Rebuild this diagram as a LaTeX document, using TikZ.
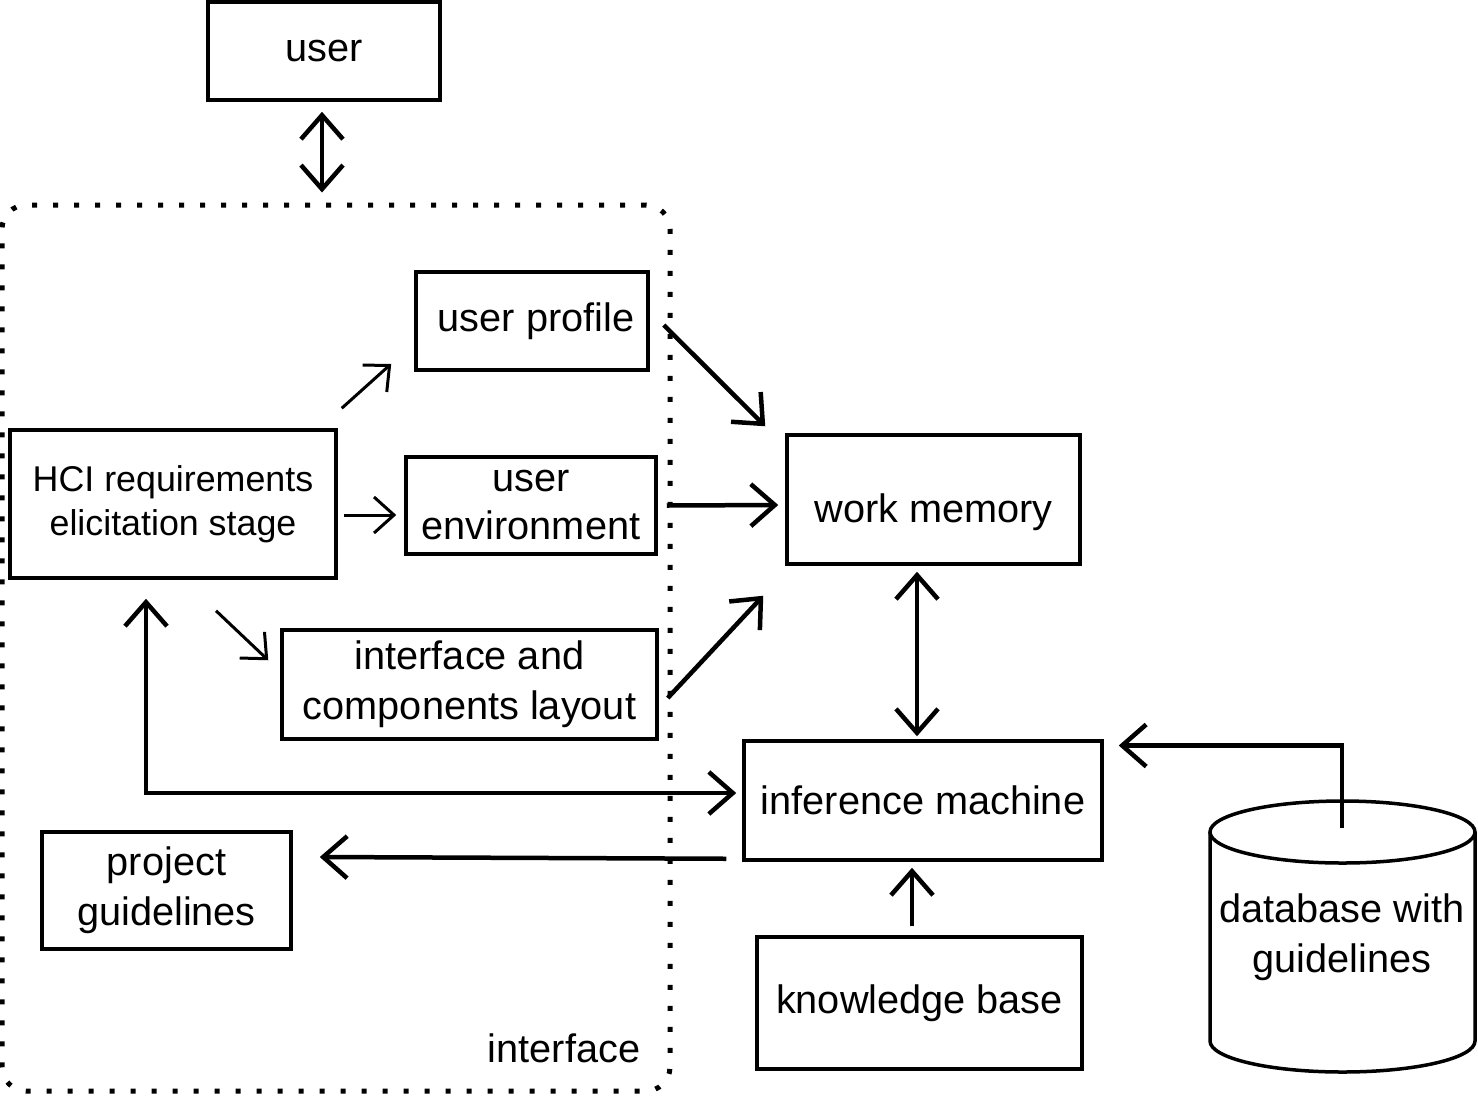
\documentclass[tikz,border=0pt]{standalone}
\usepackage{fontspec}
\setmainfont{Liberation Sans}
\usetikzlibrary{arrows.meta}
\begin{document}
\begin{tikzpicture}[x=1pt,y=-1pt,
  bigtip/.tip={Straight Barb[length=24pt,width=42pt]},
  smalltip/.tip={Straight Barb[length=20pt,width=36pt]},
  box/.style={draw,line width=3.5pt,inner sep=0pt,align=center,font=\fontsize{39.7}{48}\selectfont},
  hcibox/.style={box,font=\fontsize{35.8}{44}\selectfont},
  big/.style={line width=4.5pt},
  small/.style={line width=3pt},
  iframe/.style={draw,line width=5pt,line cap=butt,dash pattern=on 5pt off 16pt,rounded corners=24pt,inner sep=0pt}]
\useasboundingbox (0,0) rectangle (1478,1096);
% interface frame
\node[iframe,minimum width=668pt,minimum height=886pt] (iface) at (336,648) {};
\node[font=\fontsize{39.7}{48}\selectfont,inner sep=0pt] (ilabel) at (564,1048) {interface};
% boxes
\node[box,minimum width=232pt,minimum height=98pt] (user) at (324,51) {user};
\node[box,minimum width=232pt,minimum height=98pt] (prof) at (532,321) {\hspace*{8pt}user profile};
\node[hcibox,minimum width=326pt,minimum height=148pt] (hci) at (173,504) {HCI requirements\\elicitation stage};
\node[box,minimum width=250pt,minimum height=97pt] (env) at (531,505.5) {user\\environment};
\node[box,minimum width=375pt,minimum height=109pt,font=\fontsize{39.7}{50}\selectfont] (lay) at (469.5,684.5) {interface and\\components layout};
\node[box,minimum width=293pt,minimum height=129pt] (wm) at (933.5,499.5) {\raisebox{-9pt}[\height][0pt]{work memory}};
\node[box,minimum width=358pt,minimum height=119pt] (inf) at (923,800.5) {inference machine};
\node[box,minimum width=249pt,minimum height=117pt,font=\fontsize{39.7}{50}\selectfont] (pg) at (166.5,890.5) {project\\guidelines};
\node[box,minimum width=325pt,minimum height=132pt] (kb) at (919.5,1003) {knowledge base};
% database cylinder
\draw[line width=3.5pt] (1210,832) -- (1210,1041) arc[start angle=180,end angle=0,x radius=132.5,y radius=31] -- (1475,832);
\draw[line width=3.5pt] (1342.5,832) ellipse[x radius=132.5,y radius=31];
\node[inner sep=0pt,align=center,font=\fontsize{39.7}{50}\selectfont] (db) at (1342,937) {database with\\guidelines};
\coordinate (dbtop) at (1342,828);
% connectors
\draw[big,bigtip-bigtip] ([shift={(-2,10)}]user.south) -- ([shift={(-14,-10)}]iface.north);
\draw[small,-smalltip] ([shift={(4,-20)}]hci.north east) -- ([shift={(-23,-8)}]prof.south west);
\draw[small,-smalltip] ([shift={(6,11)}]hci.east) -- ([shift={(-8,9.5)}]env.west);
\draw[small,-smalltip] ([shift={(43,31)}]hci.south) -- ([shift={(-12,32)}]lay.north west);
\draw[big,-bigtip] ([shift={(14,4)}]prof.east) -- ([shift={(-20,-7)}]wm.north west);
\draw[big,-bigtip] ([shift={(9,0)}]env.east) -- ([shift={(-7,5.5)}]wm.west);
\draw[big,-bigtip] ([shift={(9,13.5)}]lay.east) -- ([shift={(-22,30)}]wm.south west);
\draw[big,bigtip-bigtip] ([shift={(-16.5,6)}]wm.south) -- ([shift={(-6,-3)}]inf.north);
\draw[big,bigtip-bigtip] ([shift={(-27,19)}]hci.south) |- ([shift={(-6,-7.5)}]inf.west);
\draw[big,-bigtip] ([shift={(-16,-3)}]inf.south west) -- ([shift={(27,-33.5)}]pg.east);
\draw[big,-bigtip] ([shift={(-7.5,-9)}]kb.north) -- ([shift={(-11,6)}]inf.south);
\draw[big,-bigtip] (dbtop) |- ([shift={(15,-55)}]inf.east);
\end{tikzpicture}
\end{document}
